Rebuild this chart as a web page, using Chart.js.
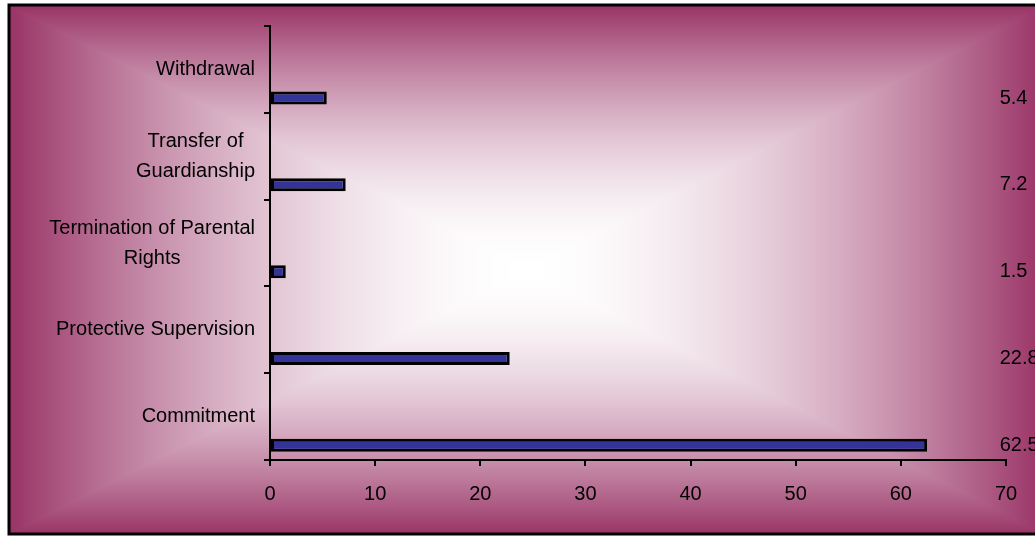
<!DOCTYPE html>
<html>
<head>
<meta charset="utf-8">
<script src="https://cdn.jsdelivr.net/npm/chart.js@4"></script>
<style>
  html, body { margin: 0; padding: 0; overflow: hidden; background: #fff; }
  canvas { display: block; }
</style>
</head>
<body>
<canvas id="chart1" width="1046" height="537"></canvas>
<script>
// categories, top to bottom
var categories = [
  "Withdrawal",
  ["Transfer of", "Guardianship"],
  ["Termination of Parental", "Rights"],
  "Protective Supervision",
  "Commitment"
];
var values = [5.4, 7.2, 1.5, 22.8, 62.5];
var spacer = [null, null, null, null, null]; // empty series, pushes bars to the bottom of each band
var xTicks = [0, 10, 20, 30, 40, 50, 60, 70];

var FONT = "'Liberation Sans', Arial, sans-serif";

// rectangular "from center" gradient, maroon edges -> white centre, plus black frame
var bgCache = null;
function buildBackground(w, h, L, T, R, B) {
  var off = document.createElement('canvas');
  off.width = w; off.height = h;
  var oc = off.getContext('2d');
  var img = oc.createImageData(w, h);
  var cx = (L + R) / 2, cy = (T + B) / 2;
  var hw = (R - L) / 2, hh = (B - T) / 2;
  var edge = [153, 51, 102];
  for (var y = 0; y < h; y++) {
    for (var x = 0; x < w; x++) {
      var t = Math.max(Math.abs(x - cx) / hw, Math.abs(y - cy) / hh);
      if (t > 1) t = 1;
      t = Math.pow(t, 1.8);
      var k = (y * w + x) * 4;
      for (var ch = 0; ch < 3; ch++) img.data[k + ch] = Math.round(255 + (edge[ch] - 255) * t);
      img.data[k + 3] = 255;
    }
  }
  oc.putImageData(img, 0, 0);
  return off;
}

var framePlugin = {
  id: 'frame',
  beforeDraw: function (chart) {
    var c = chart.ctx;
    var L = 9, T = 5, R = chart.width - 2, B = 534;
    if (!bgCache) bgCache = buildBackground(chart.width, chart.height, L, T, R, B);
    c.save();
    c.fillStyle = '#fff';
    c.fillRect(0, 0, chart.width, chart.height);
    c.beginPath();
    c.rect(L, T, R - L, B - T);
    c.clip();
    c.drawImage(bgCache, 0, 0, chart.width, chart.height);
    c.restore();
    c.save();
    c.lineWidth = 3;
    c.strokeStyle = '#000';
    c.strokeRect(L, T, R - L, B - T);
    c.restore();
  }
};

// category labels: lines centred on each other, block right-aligned to the axis
var catLabels = {
  id: 'catLabels',
  afterDraw: function (chart) {
    var c = chart.ctx;
    var ys = chart.scales.y;
    var right = chart.chartArea.left - 15;
    c.save();
    c.font = '20px ' + FONT;
    c.fillStyle = '#000';
    c.textAlign = 'center';
    c.textBaseline = 'middle';
    categories.forEach(function (lab, i) {
      var lines = Array.isArray(lab) ? lab : [lab];
      var w = 0;
      lines.forEach(function (s) { w = Math.max(w, c.measureText(s).width); });
      var y = ys.getPixelForValue(i);
      lines.forEach(function (s, j) {
        c.fillText(s, right - w / 2, y + (j - (lines.length - 1) / 2) * 30);
      });
    });
    c.restore();
  }
};

// value labels off to the right of the plot
var valueLabels = {
  id: 'valueLabels',
  afterDatasetsDraw: function (chart) {
    var c = chart.ctx;
    var meta = chart.getDatasetMeta(1);
    var xs = chart.scales.x;
    c.save();
    c.font = '20px ' + FONT;
    c.fillStyle = '#000';
    c.textAlign = 'left';
    c.textBaseline = 'middle';
    meta.data.forEach(function (bar, i) {
      c.fillText(values[i].toFixed(1), xs.getPixelForValue(69.4), bar.y);
    });
    c.restore();
  }
};

var ctx = document.getElementById('chart1');
var myChart = new Chart(ctx, {
  type: 'bar',
  data: {
    labels: categories,
    datasets: [
      { label: 'spacer', data: spacer },
      {
        label: 'Percent',
        data: values,
        backgroundColor: '#333399',
        borderColor: '#000',
        borderWidth: 3,
        borderSkipped: false
      }
    ]
  },
  options: {
    indexAxis: 'y',
    responsive: false,
    animation: false,
    categoryPercentage: 1.32,
    barPercentage: 1,
    maxBarThickness: 13,
    layout: { padding: { top: 26, left: 0, right: 40, bottom: 0 } },
    plugins: {
      legend: { display: false },
      tooltip: { enabled: false }
    },
    scales: {
      x: {
        min: 0,
        max: 70,
        afterFit: function (s) { s.height = 77; },
        afterBuildTicks: function (s) { s.ticks = xTicks.map(function (v) { return { value: v }; }); },
        grid: { drawOnChartArea: false, color: '#000', lineWidth: 2, tickLength: 6 },
        border: { color: '#000', width: 2 },
        ticks: { color: '#000', padding: 16, font: { size: 20, family: FONT } }
      },
      y: {
        offset: true,
        afterFit: function (s) { s.width = 270; },
        grid: { offset: true, drawOnChartArea: false, color: '#000', lineWidth: 2, tickLength: 6 },
        border: { color: '#000', width: 2 },
        ticks: { display: false }
      }
    }
  },
  plugins: [framePlugin, catLabels, valueLabels]
});
</script>
</body>
</html>
